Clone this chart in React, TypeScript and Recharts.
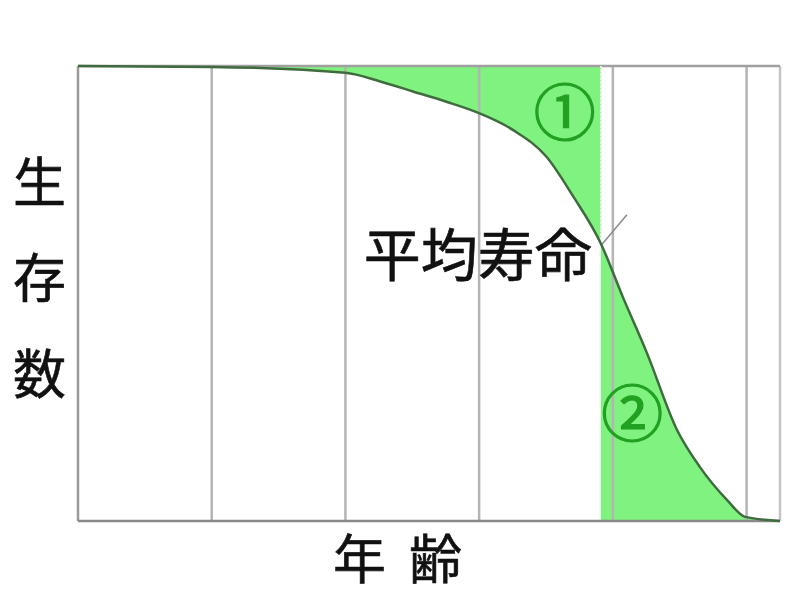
import {
  ComposedChart,
  Area,
  Line,
  XAxis,
  YAxis,
  ReferenceLine,
  ReferenceDot,
} from "recharts";

const ages = [0, 20, 40, 45.2, 50.1, 55.2, 59.7, 65.1, 70.1, 74.0, 78.2, 81.5, 85.1, 89.6, 93.0, 97.1, 99.8, 105];
const survivors = [100, 99.8, 98.5, 96.6, 94.4, 92.1, 89.8, 85.9, 80.0, 71.5, 61.0, 49.2, 36.9, 20.0, 11.9, 4.6, 0.9, 0];
const gridAges = [20, 40, 60, 80, 100];
const meanAge = 78.2;
const meanSurvivors = 61.0;

const data = ages.map((age, i) => ({
  age,
  s: survivors[i],
  upper: age <= meanAge ? [survivors[i], 100] : null,
  lower: age >= meanAge ? survivors[i] : null,
}));

const FONT = "'Noto Sans CJK JP', 'Noto Sans', sans-serif";
const GREEN = "#80f27f";
const MARK = "#22a022";

export default function App() {
  return (
    <div style={{ position: "relative", width: 800, height: 600, margin: -8, background: "#fff", fontFamily: FONT }}>
      <ComposedChart width={800} height={600} data={data} margin={{ top: 66, right: 20, bottom: 79, left: 78 }}>
        <XAxis dataKey="age" type="number" domain={[0, 105]} hide />
        <YAxis type="number" domain={[0, 100]} hide />

        {/* ① area between curve and top, up to mean lifespan */}
        <Area type="monotone" dataKey="upper" stroke="none" fill={GREEN} fillOpacity={1} connectNulls={false} isAnimationActive={false} />
        {/* ② area under curve after mean lifespan */}
        <Area type="monotone" dataKey="lower" stroke="none" fill={GREEN} fillOpacity={1} baseValue={0} connectNulls={false} isAnimationActive={false} />

        {gridAges.map((a) => (
          <ReferenceLine key={a} x={a} stroke="#b4b4b4" strokeWidth={2.5} />
        ))}

        {/* frame */}
        <ReferenceLine x={0} stroke="#9a9a9a" strokeWidth={2.5} ifOverflow="visible" />
        <ReferenceLine x={105} stroke="#c4c4c4" strokeWidth={2.5} ifOverflow="visible" />
        <ReferenceLine y={100} stroke="#a0a0a0" strokeWidth={2.5} ifOverflow="visible" />
        <ReferenceLine y={0} stroke="#8a8a8a" strokeWidth={2.5} ifOverflow="visible" />

        {/* mean lifespan marker */}
        <ReferenceLine
          segment={[{ x: meanAge, y: meanSurvivors }, { x: meanAge, y: 100 }]}
          stroke="#ffffff"
          strokeDasharray="2 2"
          strokeWidth={1.5}
        />
        <ReferenceLine
          segment={[{ x: meanAge, y: meanSurvivors - 0.5 }, { x: 82.1, y: 67.3 }]}
          stroke="#8a8a8a"
          strokeWidth={1.5}
          ifOverflow="visible"
        />

        <Line type="monotone" dataKey="s" stroke="#3f6b3f" strokeWidth={2.5} dot={false} isAnimationActive={false} />

        <ReferenceDot
          x={77.6}
          y={58.2}
          r={1}
          fill="none"
          stroke="none"
          label={{ value: "平均寿命", position: "left", offset: 4, fill: "#111", stroke: "#111", strokeWidth: 0.6, fontSize: 57, fontFamily: FONT }}
        />
        <ReferenceDot
          x={72.8}
          y={89.5}
          r={1}
          fill="none"
          stroke="none"
          label={{ value: "①", position: "center", fill: MARK, stroke: MARK, strokeWidth: 1.2, fontSize: 62, fontFamily: FONT }}
        />
        <ReferenceDot
          x={82.9}
          y={23.3}
          r={1}
          fill="none"
          stroke="none"
          label={{ value: "②", position: "center", fill: MARK, stroke: MARK, strokeWidth: 1.2, fontSize: 62, fontFamily: FONT }}
        />
      </ComposedChart>

      {/* axis titles */}
      {["生", "存", "数"].map((ch, i) => (
        <div
          key={ch}
          style={{ position: "absolute", left: 13, top: 150 + i * 96, fontSize: 53, lineHeight: "58px", color: "#111", WebkitTextStroke: "0.6px #111" }}
        >
          {ch}
        </div>
      ))}
      {["年", "齢"].map((ch, i) => (
        <div
          key={ch}
          style={{ position: "absolute", left: 333 + i * 76, top: 526, fontSize: 53, lineHeight: "60px", color: "#111", WebkitTextStroke: "0.6px #111" }}
        >
          {ch}
        </div>
      ))}
    </div>
  );
}
